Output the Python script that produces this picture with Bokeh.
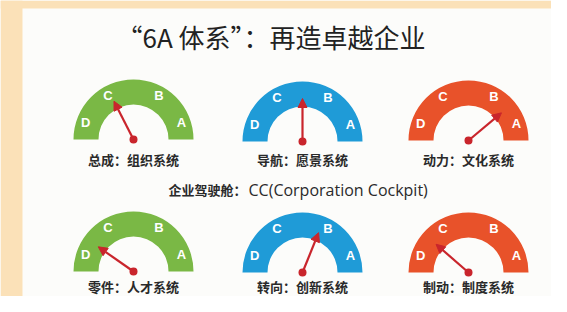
import numpy as np
from bokeh.plotting import figure
from bokeh.models import Range1d, ColumnDataSource, Arrow, NormalHead
from bokeh.core.properties import value
from bokeh.embed import file_html
from bokeh.resources import INLINE

# ---- data ----
title_text = "“6A 体系”：再造卓越企业"
center_left = "企业驾驶舱："
center_right = "CC(Corporation Cockpit)"
captions = ["总成：组织系统", "导航：愿景系统", "动力：文化系统",
            "零件：人才系统", "转向：创新系统", "制动：制度系统"]
grade_labels = ["D", "C", "B", "A"]
needle_deg = [117, 90, 40, 145, 68, 139]   # needle direction (deg, 0 = right / A side)
gauge_colors = ["#7ab845", "#1f9bd7", "#e8522a", "#7ab845", "#1f9bd7", "#e8522a"]

# ---- layout (picture pixel coordinates) ----
cx = np.array([133, 302, 468, 133, 302, 468], dtype=float)
cy = np.array([139, 141, 140, 271, 272, 272], dtype=float)
R_OUT, R_IN, R_LAB, NEEDLE = 60, 35, 51, 43
label_ang = np.radians([160, 120, 60, 20])

W, H = 551, 296
p = figure(width=W, height=H, x_range=Range1d(0, W), y_range=Range1d(H, 0),
           output_backend="svg", toolbar_location=None, min_border=0)
p.axis.visible = False
p.grid.visible = False
p.outline_line_color = None
p.background_fill_color = "#fcfcfa"
p.border_fill_color = "#fcfcfa"

# beige frame strips (left and top)
p.quad(left=[0, 0], right=[22, W], bottom=[H, 8], top=[0, 0], color="#fbe1b8",
       line_color=None)

# title
p.text(x=[277], y=[36], text=[title_text], text_font=value("Noto Sans CJK SC"),
       text_font_size="26px", text_color="#222222", text_align="center",
       text_baseline="middle")

# gauges
src = ColumnDataSource(dict(x=cx, y=cy, color=gauge_colors))
p.annular_wedge(x="x", y="y", inner_radius=R_IN, outer_radius=R_OUT,
                start_angle=0, end_angle=np.pi, color="color", line_color=None,
                source=src)

# grade letters
lx, ly, lt = [], [], []
for i in range(6):
    for a, t in zip(label_ang, grade_labels):
        lx.append(cx[i] + R_LAB * np.cos(a))
        ly.append(cy[i] - R_LAB * np.sin(a))
        lt.append(t)
p.text(x=lx, y=ly, text=lt, text_font=value("Liberation Sans"), text_font_size="13px",
       text_font_style="bold", text_color="white", text_align="center",
       text_baseline="middle")

# needles
ang = np.radians(needle_deg)
tx = cx + NEEDLE * np.cos(ang)
ty = cy - NEEDLE * np.sin(ang)
nsrc = ColumnDataSource(dict(x0=cx, y0=cy, x1=tx, y1=ty))
p.add_layout(Arrow(x_start="x0", y_start="y0", x_end="x1", y_end="y1", source=nsrc,
                   line_color="#c9252c", line_width=2.2,
                   end=NormalHead(size=9, fill_color="#c9252c", line_color="#c9252c")))
p.scatter(x=cx, y=cy, size=8, color="#c9252c", line_color=None)

# captions
cap_y = [159, 159, 159, 286, 286, 286]
p.text(x=cx, y=cap_y, text=captions, text_font=value("Noto Sans CJK SC"),
       text_font_size="13px", text_font_style="bold", text_color="#2a2a2a",
       text_align="center", text_baseline="middle")

# centre line
p.text(x=[246], y=[189], text=[center_left], text_font=value("Noto Sans CJK SC"),
       text_font_size="13px", text_font_style="bold", text_color="#2a2a2a",
       text_align="right", text_baseline="middle")
p.text(x=[248], y=[189], text=[center_right], text_font=value("Open Sans"),
       text_font_size="16px", text_color="#2a2a2a",
       text_align="left", text_baseline="middle")

html = file_html(p, INLINE)
open("out.html", "w").write(html)
